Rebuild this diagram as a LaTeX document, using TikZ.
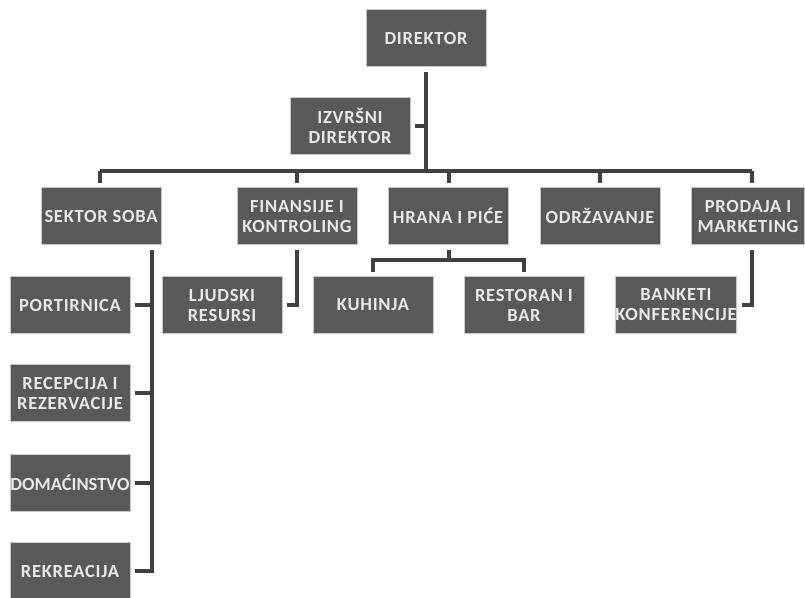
\documentclass[tikz,border=0pt]{standalone}
\usepackage{fontspec}
\setmainfont{Carlito}
\usetikzlibrary{positioning}
\definecolor{boxgray}{HTML}{595959}
\definecolor{linegray}{HTML}{404040}
\definecolor{rimgray}{HTML}{C8C8C8}
\tikzset{unit/.style={rectangle,draw=rimgray,line width=0.8pt,fill=boxgray,text=rimgray!40!white,
    minimum width=120pt,minimum height=57pt,inner sep=0pt,align=center,outer sep=5pt,
    font=\addfontfeatures{LetterSpace=4}\fontsize{18.5}{20}\selectfont\bfseries},
  tight/.style={font=\fontsize{18.5}{20}\selectfont\bfseries},
  conn/.style={draw=linegray,line width=4pt}}

\begin{document}
\begin{tikzpicture}[x=1pt,y=-1pt]
    \useasboundingbox (0,0) rectangle (805,597);

    % top level
    \node [unit] (dir) at (426,38) {DIREKTOR};
    \node [unit] (izvrsni) at (350,126) {IZVRŠNI\\DIREKTOR};

    % sectors
    \node [unit] (sektor) at (101,216) {SEKTOR SOBA};
    \node [unit] (finans) at (297,216) {FINANSIJE I\\KONTROLING};
    \node [unit] (hrana) at (448,216) {HRANA I PIĆE};
    \node [unit] (odrz) at (600,216) {ODRŽAVANJE};
    \node [unit, minimum width=113pt] (prodaja) at (748,216) {PRODAJA I\\MARKETING};

    % departments
    \node [unit] (portir) at (70,305) {PORTIRNICA};
    \node [unit] (recep) at (70,393) {RECEPCIJA I\\REZERVACIJE};
    \node [unit, tight] (domac) at (70,483) {DOMAĆINSTVO};
    \node [unit] (rekr) at (70,571) {REKREACIJA};
    \node [unit] (ljudski) at (222,305) {LJUDSKI\\RESURSI};
    \node [unit] (kuhinja) at (373,305) {KUHINJA};
    \node [unit] (restoran) at (524,305) {RESTORAN I\\BAR};
    \node [unit] (banketi) at (676,305) {BANKETI\\KONFERENCIJE};

    % connectors
    \coordinate (bar) at (426,171);
    \coordinate (barL) at (100,171);
    \coordinate (barR) at (752,171);
    \draw [conn] (dir.south) -- (bar);
    \draw [conn] (izvrsni.east) -- (izvrsni.east -| bar);
    \draw [conn] (barL) -- (barR);
    \foreach \n/\x in {sektor/100,finans/297,hrana/449,odrz/600,prodaja/752}
        \draw [conn] (\x,0 |- bar) -- (\x,0 |- \n.north);

    \coordinate (sobaline) at (152,0);
    \draw [conn] (sobaline |- sektor.south) |- (rekr.east);
    \foreach \n in {portir,recep,domac}
        \draw [conn] (\n.east) -- (\n.east -| sobaline);

    \draw [conn] (297,0 |- finans.south) |- (ljudski.east);
    \draw [conn] (752,0 |- prodaja.south) |- (banketi.east);

    \coordinate (hbar) at (449,260);
    \draw [conn] (449,0 |- hrana.south) -- (hbar);
    \draw [conn] (kuhinja.north) |- (hbar) -| (restoran.north);
\end{tikzpicture}
\end{document}
